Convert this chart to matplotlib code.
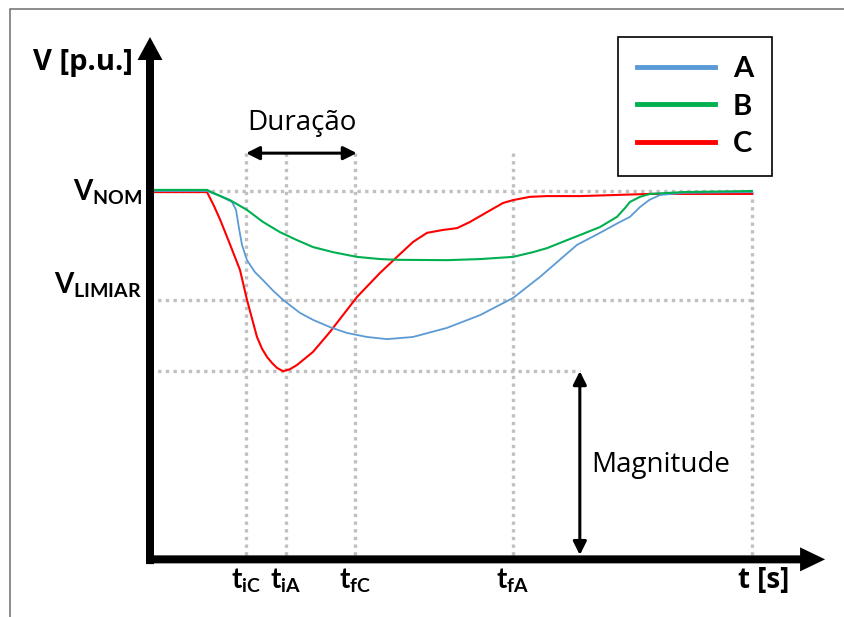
import matplotlib.pyplot as plt
from matplotlib.patches import Rectangle

plt.rcParams['font.family'] = ['Lato', 'DejaVu Sans']
plt.rcParams['mathtext.fontset'] = 'custom'
plt.rcParams['mathtext.bf'] = 'Lato:bold'
plt.rcParams['mathtext.rm'] = 'Lato:bold'

# afundamentos de tensao: tempo (ms) e tensao (p.u.)
t_a = [0, 9.47, 11.63, 13.62, 14.29, 14.78, 15.28, 16.11, 17.44, 18.77, 20.4, 22.09,
       24.92, 27.08, 29.90, 32.72, 36.05, 39.37, 43.69, 49.34, 54.82, 60.30, 64.78,
       70.93, 74.75, 77.5, 79.73, 81.40, 83.0, 84.72, 88.54, 100]
v_a = [1.0, 1.0, 0.986, 0.970, 0.948, 0.898, 0.852, 0.810, 0.777, 0.755, 0.727, 0.701,
       0.665, 0.646, 0.626, 0.610, 0.599, 0.593, 0.599, 0.624, 0.659, 0.706, 0.764,
       0.852, 0.885, 0.910, 0.929, 0.956, 0.976, 0.989, 0.995, 0.997]

t_b = [0, 9.47, 10.47, 13.29, 16.11, 18.77, 21.59, 24.42, 27.08, 30.40, 34.39, 38.21,
       41.03, 49.34, 54.82, 60.30, 63.62, 65.95, 69.27, 71.43, 74.75, 77.57, 78.90,
       79.73, 81.40, 83.06, 88.54, 100]
v_b = [1.003, 1.003, 0.995, 0.975, 0.948, 0.915, 0.887, 0.865, 0.846, 0.832, 0.819,
       0.813, 0.811, 0.810, 0.813, 0.819, 0.832, 0.843, 0.865, 0.879, 0.901, 0.929,
       0.953, 0.970, 0.984, 0.992, 0.997, 1.0]

t_c = [0, 9.47, 10.6, 11.63, 13.3, 14.95, 16.11, 17.77, 18.6, 19.44, 20.3, 21.10, 22.09,
       23.2, 24.42, 27.08, 29.90, 34.39, 38.21, 41.03, 43.69, 46.01, 48.67, 51.00,
       53.16, 55.98, 58.64, 60.30, 63.12, 65.95, 71.43, 83.06, 100]
v_c = [0.997, 0.997, 0.960, 0.922, 0.853, 0.783, 0.701, 0.599, 0.567, 0.544, 0.527,
       0.514, 0.505, 0.510, 0.522, 0.558, 0.613, 0.709, 0.775, 0.819, 0.860, 0.885,
       0.893, 0.898, 0.915, 0.942, 0.967, 0.975, 0.984, 0.986, 0.986, 0.992, 0.992]

nomes = ['A', 'B', 'C']
cores = ['#5b9bd5', '#00b050', '#ff0000']

# instantes marcados no eixo do tempo
t_ic, t_ia, t_fc, t_fa, t_fim = 15.95, 22.59, 34.05, 60.30, 100.0
rotulos_t = [r'$\mathbf{t}_\mathbf{iC}$', r'$\mathbf{t}_\mathbf{iA}$',
             r'$\mathbf{t}_\mathbf{fC}$', r'$\mathbf{t}_\mathbf{fA}$']
v_nom, v_limiar = 1.0, 0.70
v_min_c = min(v_c)
t_mag = 71.4
v_dur = 1.104

# escala: 6.02 px por ms, 364 px por p.u., origem em (150, 555)
fig = plt.figure(figsize=(8.45, 6.17), dpi=100)
ax = fig.add_axes([0, 0, 1, 1])
ax.set_xlim(-150 / 6.02, 695 / 6.02)
ax.set_ylim(-62 / 364, 555 / 364)
ax.axis('off')

grade = dict(color='#c0c0c0', lw=2.4, dashes=(1, 1.3), zorder=1)
for t in [t_ic, t_ia, t_fc, t_fa]:
    ax.plot([t, t], [0, v_dur], **grade)
ax.plot([t_fim, t_fim], [0, v_nom], **grade)
ax.plot([0, t_fim], [v_nom, v_nom], **grade)
ax.plot([0, t_fim], [v_limiar, v_limiar], **grade)
ax.plot([0, t_mag], [v_min_c, v_min_c], **grade)

linhas = {}
for nome, t, v, cor, lw in [('C', t_c, v_c, cores[2], 1.5),
                            ('A', t_a, v_a, cores[0], 1.3),
                            ('B', t_b, v_b, cores[1], 1.5)]:
    linhas[nome], = ax.plot(t, v, color=cor, lw=lw, zorder=3, label=nome)

# eixos com setas
ax.arrow(0, -0.025, 0, 1.448, width=8 / 6.02, head_width=25 / 6.02,
         head_length=23 / 364, length_includes_head=True, color='k', lw=0, zorder=4)
ax.arrow(-0.66, -0.012, 112.8, 0, width=8 / 364, head_width=24 / 364,
         head_length=25 / 6.02, length_includes_head=True, color='k', lw=0, zorder=4)

seta = dict(arrowstyle='<|-|>', color='k', lw=2.2, mutation_scale=20,
            shrinkA=0, shrinkB=0)
ax.annotate('', xy=(t_mag, v_min_c), xytext=(t_mag, 0), arrowprops=seta, zorder=5)
ax.annotate('', xy=(t_ic, v_dur), xytext=(t_fc + 0.3, v_dur), arrowprops=seta, zorder=5)
ax.text(t_mag + 1.9, 0.228, 'Magnitude', fontsize=20, family='Open Sans',
        ha='left', va='baseline')
ax.text((t_ic + t_fc) / 2 + 0.2, 1.168, 'Duração', fontsize=20, family='Open Sans',
        ha='center', va='baseline')

ax.text(-2.9, 1.332, 'V [p.u.]', fontsize=21, fontweight='bold', family='Open Sans',
        ha='right', va='baseline')
ax.text(-1.3, 0.975, r'$\mathbf{V}_\mathbf{NOM}$', fontsize=20, ha='right', va='baseline')
ax.text(-1.3, 0.72, r'$\mathbf{V}_\mathbf{LIMIAR}$', fontsize=20, ha='right', va='baseline')

for t, rot in zip([t_ic, t_ia, t_fc, t_fa], rotulos_t):
    ax.text(t, -0.091, rot, fontsize=20, ha='center', va='baseline')
ax.text(101.9, -0.091, 't [s]', fontsize=20, fontweight='bold', family='Open Sans',
        ha='center', va='baseline')

leg = ax.legend(handles=[linhas[n] for n in nomes], loc='upper right',
                bbox_to_anchor=(772 / 845, 1 - 37 / 617), bbox_transform=fig.transFigure,
                borderaxespad=0, fancybox=False, framealpha=1, edgecolor='k',
                prop=dict(size=21, weight='bold'), handlelength=2.7,
                handletextpad=0.6, labelspacing=0.4, borderpad=0.65)
leg.get_frame().set_linewidth(1.2)
for h in leg.get_lines():
    h.set_linewidth(3.5)

# moldura fina no topo e a esquerda
fig.add_artist(Rectangle((10 / 845, -0.1), 1.2, 1.1 - 8.5 / 617, fill=False,
                         edgecolor='#6d6d6d', lw=1.1, transform=fig.transFigure))

fig.savefig('out.png', dpi=100)
